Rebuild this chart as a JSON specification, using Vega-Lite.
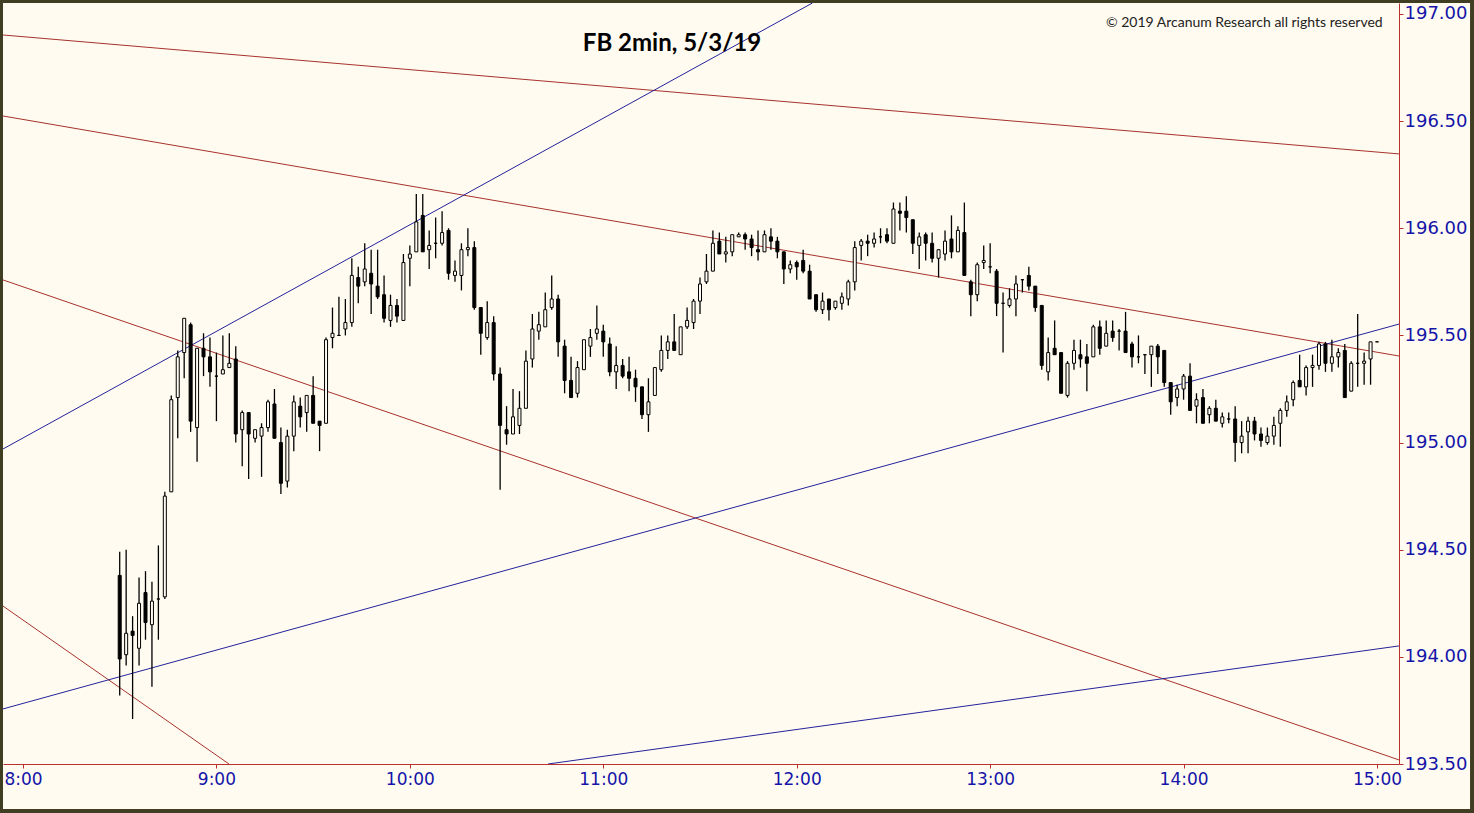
{
  "$schema": "https://vega.github.io/schema/vega-lite/v6.json",
  "width": 1396,
  "height": 761,
  "autosize": {"type": "none"},
  "padding": {"left": 3, "top": 3, "right": 75, "bottom": 49},
  "background": "#3f3e22",
  "config": {
    "view": {"fill": "#fffbf0", "stroke": null},
    "scale": {"continuousPadding": 0},
    "axis": {"grid": false, "domainColor": "#b8312f", "tickColor": "#b8312f", "labelColor": "#1414a8", "labelFont": "DejaVu Sans", "domainWidth": 1, "tickWidth": 1, "tickSize": 4, "zindex": 1}
  },
  "title": {"text": "FB 2min, 5/3/19", "anchor": "middle", "frame": "group", "orient": "top", "offset": 0, "dx": -29, "dy": 72, "baseline": "alphabetic", "font": "Lato", "fontSize": 24, "fontWeight": "bold", "color": "#000000"},
  "datasets": {
    "candles": [
      {"t":"08:30","o":194.38,"h":194.49,"l":193.82,"c":193.99},
      {"t":"08:32","o":194.01,"h":194.50,"l":193.96,"c":194.11},
      {"t":"08:34","o":194.12,"h":194.19,"l":193.71,"c":194.10},
      {"t":"08:36","o":194.04,"h":194.37,"l":193.96,"c":194.25},
      {"t":"08:38","o":194.30,"h":194.40,"l":194.08,"c":194.16},
      {"t":"08:40","o":194.15,"h":194.35,"l":193.86,"c":194.26},
      {"t":"08:42","o":194.27,"h":194.52,"l":194.08,"c":194.27},
      {"t":"08:44","o":194.28,"h":194.77,"l":194.27,"c":194.75},
      {"t":"08:46","o":194.77,"h":195.22,"l":194.77,"c":195.20},
      {"t":"08:48","o":195.21,"h":195.43,"l":195.02,"c":195.40},
      {"t":"08:50","o":195.42,"h":195.58,"l":195.30,"c":195.58},
      {"t":"08:52","o":195.55,"h":195.56,"l":195.05,"c":195.10},
      {"t":"08:54","o":195.07,"h":195.44,"l":194.91,"c":195.44},
      {"t":"08:56","o":195.44,"h":195.51,"l":195.31,"c":195.40},
      {"t":"08:58","o":195.40,"h":195.49,"l":195.26,"c":195.33},
      {"t":"09:00","o":195.31,"h":195.42,"l":195.10,"c":195.31},
      {"t":"09:02","o":195.32,"h":195.50,"l":195.32,"c":195.34},
      {"t":"09:04","o":195.35,"h":195.51,"l":195.35,"c":195.37},
      {"t":"09:06","o":195.39,"h":195.45,"l":195.00,"c":195.04},
      {"t":"09:08","o":195.06,"h":195.15,"l":194.89,"c":195.14},
      {"t":"09:10","o":195.14,"h":195.14,"l":194.83,"c":195.04},
      {"t":"09:12","o":195.02,"h":195.06,"l":195.00,"c":195.06},
      {"t":"09:14","o":195.03,"h":195.09,"l":194.84,"c":195.07},
      {"t":"09:16","o":195.07,"h":195.20,"l":195.05,"c":195.19},
      {"t":"09:18","o":195.18,"h":195.25,"l":195.02,"c":195.02},
      {"t":"09:20","o":195.00,"h":195.07,"l":194.76,"c":194.81},
      {"t":"09:22","o":194.82,"h":195.06,"l":194.79,"c":195.03},
      {"t":"09:24","o":195.03,"h":195.22,"l":194.96,"c":195.19},
      {"t":"09:26","o":195.17,"h":195.21,"l":195.07,"c":195.12},
      {"t":"09:28","o":195.14,"h":195.22,"l":195.05,"c":195.22},
      {"t":"09:30","o":195.22,"h":195.31,"l":195.09,"c":195.09},
      {"t":"09:32","o":195.10,"h":195.10,"l":194.96,"c":195.08},
      {"t":"09:34","o":195.09,"h":195.49,"l":195.09,"c":195.48},
      {"t":"09:36","o":195.49,"h":195.63,"l":195.44,"c":195.51},
      {"t":"09:38","o":195.50,"h":195.68,"l":195.50,"c":195.50},
      {"t":"09:40","o":195.53,"h":195.67,"l":195.50,"c":195.56},
      {"t":"09:42","o":195.56,"h":195.86,"l":195.54,"c":195.78},
      {"t":"09:44","o":195.77,"h":195.82,"l":195.65,"c":195.73},
      {"t":"09:46","o":195.75,"h":195.93,"l":195.73,"c":195.81},
      {"t":"09:48","o":195.79,"h":195.90,"l":195.60,"c":195.74},
      {"t":"09:50","o":195.73,"h":195.90,"l":195.67,"c":195.68},
      {"t":"09:52","o":195.69,"h":195.78,"l":195.56,"c":195.58},
      {"t":"09:54","o":195.57,"h":195.69,"l":195.54,"c":195.64},
      {"t":"09:56","o":195.64,"h":195.67,"l":195.56,"c":195.59},
      {"t":"09:58","o":195.57,"h":195.88,"l":195.57,"c":195.84},
      {"t":"10:00","o":195.86,"h":195.92,"l":195.73,"c":195.88},
      {"t":"10:02","o":195.89,"h":196.16,"l":195.89,"c":196.03},
      {"t":"10:04","o":196.06,"h":196.16,"l":195.89,"c":195.89},
      {"t":"10:06","o":195.90,"h":195.99,"l":195.81,"c":195.92},
      {"t":"10:08","o":195.93,"h":196.05,"l":195.86,"c":195.93},
      {"t":"10:10","o":195.93,"h":196.08,"l":195.92,"c":195.98},
      {"t":"10:12","o":195.99,"h":196.00,"l":195.76,"c":195.79},
      {"t":"10:14","o":195.78,"h":195.85,"l":195.75,"c":195.80},
      {"t":"10:16","o":195.78,"h":195.93,"l":195.71,"c":195.90},
      {"t":"10:18","o":195.90,"h":196.00,"l":195.87,"c":195.91},
      {"t":"10:20","o":195.91,"h":195.94,"l":195.62,"c":195.63},
      {"t":"10:22","o":195.63,"h":195.63,"l":195.41,"c":195.51},
      {"t":"10:24","o":195.49,"h":195.66,"l":195.48,"c":195.56},
      {"t":"10:26","o":195.56,"h":195.59,"l":195.29,"c":195.32},
      {"t":"10:28","o":195.32,"h":195.35,"l":194.78,"c":195.08},
      {"t":"10:30","o":195.06,"h":195.17,"l":194.99,"c":195.04},
      {"t":"10:32","o":195.04,"h":195.25,"l":195.04,"c":195.12},
      {"t":"10:34","o":195.08,"h":195.24,"l":195.04,"c":195.16},
      {"t":"10:36","o":195.16,"h":195.43,"l":195.16,"c":195.38},
      {"t":"10:38","o":195.39,"h":195.60,"l":195.35,"c":195.53},
      {"t":"10:40","o":195.52,"h":195.61,"l":195.48,"c":195.55},
      {"t":"10:42","o":195.54,"h":195.70,"l":195.54,"c":195.62},
      {"t":"10:44","o":195.63,"h":195.78,"l":195.62,"c":195.67},
      {"t":"10:46","o":195.67,"h":195.69,"l":195.40,"c":195.47},
      {"t":"10:48","o":195.45,"h":195.48,"l":195.23,"c":195.29},
      {"t":"10:50","o":195.29,"h":195.40,"l":195.21,"c":195.21},
      {"t":"10:52","o":195.23,"h":195.38,"l":195.21,"c":195.35},
      {"t":"10:54","o":195.34,"h":195.48,"l":195.34,"c":195.48},
      {"t":"10:56","o":195.45,"h":195.53,"l":195.40,"c":195.49},
      {"t":"10:58","o":195.51,"h":195.64,"l":195.48,"c":195.53},
      {"t":"11:00","o":195.52,"h":195.55,"l":195.40,"c":195.47},
      {"t":"11:02","o":195.46,"h":195.49,"l":195.31,"c":195.33},
      {"t":"11:04","o":195.33,"h":195.45,"l":195.25,"c":195.36},
      {"t":"11:06","o":195.36,"h":195.39,"l":195.30,"c":195.31},
      {"t":"11:08","o":195.33,"h":195.40,"l":195.24,"c":195.30},
      {"t":"11:10","o":195.30,"h":195.34,"l":195.19,"c":195.26},
      {"t":"11:12","o":195.26,"h":195.26,"l":195.11,"c":195.13},
      {"t":"11:14","o":195.13,"h":195.30,"l":195.05,"c":195.19},
      {"t":"11:16","o":195.22,"h":195.35,"l":195.22,"c":195.35},
      {"t":"11:18","o":195.34,"h":195.50,"l":195.33,"c":195.43},
      {"t":"11:20","o":195.43,"h":195.50,"l":195.39,"c":195.47},
      {"t":"11:22","o":195.47,"h":195.60,"l":195.43,"c":195.43},
      {"t":"11:24","o":195.41,"h":195.54,"l":195.41,"c":195.54},
      {"t":"11:26","o":195.54,"h":195.63,"l":195.53,"c":195.57},
      {"t":"11:28","o":195.56,"h":195.67,"l":195.53,"c":195.66},
      {"t":"11:30","o":195.66,"h":195.77,"l":195.60,"c":195.74},
      {"t":"11:32","o":195.75,"h":195.88,"l":195.74,"c":195.80},
      {"t":"11:34","o":195.80,"h":195.99,"l":195.80,"c":195.93},
      {"t":"11:36","o":195.94,"h":195.98,"l":195.88,"c":195.88},
      {"t":"11:38","o":195.88,"h":195.96,"l":195.84,"c":195.89},
      {"t":"11:40","o":195.89,"h":195.97,"l":195.87,"c":195.97},
      {"t":"11:42","o":195.96,"h":195.98,"l":195.96,"c":195.97},
      {"t":"11:44","o":195.97,"h":195.98,"l":195.90,"c":195.95},
      {"t":"11:46","o":195.95,"h":195.97,"l":195.87,"c":195.91},
      {"t":"11:48","o":195.90,"h":195.99,"l":195.85,"c":195.89},
      {"t":"11:50","o":195.89,"h":195.99,"l":195.89,"c":195.97},
      {"t":"11:52","o":195.96,"h":196.00,"l":195.90,"c":195.94},
      {"t":"11:54","o":195.94,"h":195.96,"l":195.86,"c":195.89},
      {"t":"11:56","o":195.89,"h":195.89,"l":195.74,"c":195.81},
      {"t":"11:58","o":195.81,"h":195.85,"l":195.79,"c":195.83},
      {"t":"12:00","o":195.84,"h":195.85,"l":195.76,"c":195.82},
      {"t":"12:02","o":195.85,"h":195.90,"l":195.79,"c":195.80},
      {"t":"12:04","o":195.80,"h":195.83,"l":195.67,"c":195.67},
      {"t":"12:06","o":195.69,"h":195.69,"l":195.61,"c":195.62},
      {"t":"12:08","o":195.62,"h":195.70,"l":195.60,"c":195.66},
      {"t":"12:10","o":195.67,"h":195.67,"l":195.57,"c":195.62},
      {"t":"12:12","o":195.63,"h":195.66,"l":195.62,"c":195.66},
      {"t":"12:14","o":195.65,"h":195.70,"l":195.62,"c":195.68},
      {"t":"12:16","o":195.67,"h":195.76,"l":195.64,"c":195.75},
      {"t":"12:18","o":195.75,"h":195.94,"l":195.71,"c":195.91},
      {"t":"12:20","o":195.92,"h":195.95,"l":195.85,"c":195.94},
      {"t":"12:22","o":195.94,"h":195.97,"l":195.87,"c":195.93},
      {"t":"12:24","o":195.93,"h":195.98,"l":195.91,"c":195.95},
      {"t":"12:26","o":195.96,"h":196.00,"l":195.93,"c":195.96},
      {"t":"12:28","o":195.97,"h":196.00,"l":195.93,"c":195.94},
      {"t":"12:30","o":195.93,"h":196.12,"l":195.93,"c":196.09},
      {"t":"12:32","o":196.08,"h":196.12,"l":195.99,"c":196.07},
      {"t":"12:34","o":196.08,"h":196.15,"l":195.98,"c":196.05},
      {"t":"12:36","o":196.04,"h":196.04,"l":195.88,"c":195.93},
      {"t":"12:38","o":195.92,"h":195.98,"l":195.81,"c":195.96},
      {"t":"12:40","o":195.97,"h":195.98,"l":195.85,"c":195.93},
      {"t":"12:42","o":195.93,"h":195.98,"l":195.84,"c":195.86},
      {"t":"12:44","o":195.86,"h":195.90,"l":195.77,"c":195.90},
      {"t":"12:46","o":195.88,"h":195.99,"l":195.85,"c":195.94},
      {"t":"12:48","o":195.95,"h":196.06,"l":195.86,"c":195.89},
      {"t":"12:50","o":195.89,"h":196.01,"l":195.89,"c":195.99},
      {"t":"12:52","o":195.98,"h":196.12,"l":195.78,"c":195.78},
      {"t":"12:54","o":195.75,"h":195.76,"l":195.59,"c":195.69},
      {"t":"12:56","o":195.69,"h":195.84,"l":195.66,"c":195.83},
      {"t":"12:58","o":195.84,"h":195.92,"l":195.81,"c":195.85},
      {"t":"13:00","o":195.82,"h":195.93,"l":195.79,"c":195.82},
      {"t":"13:02","o":195.80,"h":195.81,"l":195.59,"c":195.65},
      {"t":"13:04","o":195.65,"h":195.70,"l":195.42,"c":195.65},
      {"t":"13:06","o":195.64,"h":195.72,"l":195.63,"c":195.67},
      {"t":"13:08","o":195.67,"h":195.78,"l":195.59,"c":195.74},
      {"t":"13:10","o":195.76,"h":195.76,"l":195.70,"c":195.76},
      {"t":"13:12","o":195.78,"h":195.82,"l":195.71,"c":195.73},
      {"t":"13:14","o":195.73,"h":195.73,"l":195.61,"c":195.63},
      {"t":"13:16","o":195.64,"h":195.64,"l":195.34,"c":195.36},
      {"t":"13:18","o":195.33,"h":195.49,"l":195.29,"c":195.42},
      {"t":"13:20","o":195.44,"h":195.57,"l":195.41,"c":195.41},
      {"t":"13:22","o":195.42,"h":195.42,"l":195.23,"c":195.23},
      {"t":"13:24","o":195.22,"h":195.38,"l":195.21,"c":195.37},
      {"t":"13:26","o":195.37,"h":195.48,"l":195.34,"c":195.43},
      {"t":"13:28","o":195.41,"h":195.48,"l":195.35,"c":195.39},
      {"t":"13:30","o":195.40,"h":195.46,"l":195.24,"c":195.37},
      {"t":"13:32","o":195.40,"h":195.55,"l":195.40,"c":195.54},
      {"t":"13:34","o":195.54,"h":195.57,"l":195.41,"c":195.44},
      {"t":"13:36","o":195.45,"h":195.57,"l":195.45,"c":195.51},
      {"t":"13:38","o":195.52,"h":195.57,"l":195.47,"c":195.49},
      {"t":"13:40","o":195.52,"h":195.53,"l":195.43,"c":195.52},
      {"t":"13:42","o":195.52,"h":195.61,"l":195.42,"c":195.42},
      {"t":"13:44","o":195.46,"h":195.47,"l":195.35,"c":195.40},
      {"t":"13:46","o":195.40,"h":195.50,"l":195.37,"c":195.40},
      {"t":"13:48","o":195.41,"h":195.41,"l":195.32,"c":195.41},
      {"t":"13:50","o":195.41,"h":195.45,"l":195.26,"c":195.45},
      {"t":"13:52","o":195.45,"h":195.46,"l":195.32,"c":195.40},
      {"t":"13:54","o":195.43,"h":195.43,"l":195.26,"c":195.28},
      {"t":"13:56","o":195.28,"h":195.28,"l":195.13,"c":195.19},
      {"t":"13:58","o":195.21,"h":195.27,"l":195.17,"c":195.25},
      {"t":"14:00","o":195.25,"h":195.32,"l":195.20,"c":195.31},
      {"t":"14:02","o":195.31,"h":195.37,"l":195.15,"c":195.15},
      {"t":"14:04","o":195.17,"h":195.23,"l":195.09,"c":195.20},
      {"t":"14:06","o":195.21,"h":195.25,"l":195.09,"c":195.09},
      {"t":"14:08","o":195.13,"h":195.17,"l":195.09,"c":195.16},
      {"t":"14:10","o":195.16,"h":195.20,"l":195.10,"c":195.10},
      {"t":"14:12","o":195.09,"h":195.14,"l":195.07,"c":195.12},
      {"t":"14:14","o":195.11,"h":195.14,"l":195.09,"c":195.11},
      {"t":"14:16","o":195.11,"h":195.17,"l":194.91,"c":195.00},
      {"t":"14:18","o":195.00,"h":195.10,"l":194.95,"c":195.03},
      {"t":"14:20","o":195.05,"h":195.12,"l":194.95,"c":195.10},
      {"t":"14:22","o":195.10,"h":195.12,"l":195.01,"c":195.04},
      {"t":"14:24","o":195.04,"h":195.07,"l":194.98,"c":195.01},
      {"t":"14:26","o":195.00,"h":195.07,"l":194.99,"c":195.03},
      {"t":"14:28","o":195.03,"h":195.12,"l":194.99,"c":195.08},
      {"t":"14:30","o":195.09,"h":195.16,"l":194.98,"c":195.15},
      {"t":"14:32","o":195.15,"h":195.22,"l":195.12,"c":195.19},
      {"t":"14:34","o":195.20,"h":195.29,"l":195.17,"c":195.28},
      {"t":"14:36","o":195.29,"h":195.41,"l":195.26,"c":195.26},
      {"t":"14:38","o":195.26,"h":195.36,"l":195.22,"c":195.35},
      {"t":"14:40","o":195.35,"h":195.41,"l":195.26,"c":195.36},
      {"t":"14:42","o":195.36,"h":195.47,"l":195.34,"c":195.46},
      {"t":"14:44","o":195.46,"h":195.47,"l":195.33,"c":195.37},
      {"t":"14:46","o":195.37,"h":195.48,"l":195.33,"c":195.40},
      {"t":"14:48","o":195.40,"h":195.44,"l":195.35,"c":195.42},
      {"t":"14:50","o":195.43,"h":195.46,"l":195.21,"c":195.21},
      {"t":"14:52","o":195.24,"h":195.38,"l":195.24,"c":195.37},
      {"t":"14:54","o":195.37,"h":195.60,"l":195.26,"c":195.37},
      {"t":"14:56","o":195.37,"h":195.42,"l":195.27,"c":195.38},
      {"t":"14:58","o":195.39,"h":195.47,"l":195.27,"c":195.47},
      {"t":"15:00","o":195.47,"h":195.47,"l":195.47,"c":195.47}
    ],
    "lines": [
      {"line":"R1","t":"07:53:48","p":196.902},
      {"line":"R1","t":"15:06:49","p":196.347},
      {"line":"R2","t":"07:53:48","p":196.524},
      {"line":"R2","t":"15:06:49","p":195.404},
      {"line":"R3","t":"07:53:48","p":195.759},
      {"line":"R3","t":"15:06:49","p":193.519},
      {"line":"R4","t":"07:53:48","p":194.237},
      {"line":"R4","t":"09:03:54","p":193.5},
      {"line":"B1","t":"07:53:48","p":194.970},
      {"line":"B1","t":"12:04:52","p":197.0513},
      {"line":"B2","t":"07:53:48","p":193.757},
      {"line":"B2","t":"15:06:49","p":195.553},
      {"line":"B3","t":"10:42:51","p":193.5},
      {"line":"B3","t":"15:06:49","p":194.051}
    ]
  },
  "layer": [
    {
      "data": {"values": [{}]},
      "mark": {"type": "rect", "clip": false, "fill": "#fffbf0"},
      "encoding": {
        "x": {"datum": {"year": 1900, "month": 1, "date": 1, "hours": 7, "minutes": 53, "seconds": 48}, "type": "temporal", "title": null,
              "scale": {"domain": [{"year": 1900, "month": 1, "date": 1, "hours": 7, "minutes": 53, "seconds": 48}, {"year": 1900, "month": 1, "date": 1, "hours": 15, "minutes": 6, "seconds": 49}], "padding": 0},
              "axis": {"orient": "bottom", "title": null, "format": "%-H:%M", "labelFontSize": 17, "labelPadding": 3, "labelFlush": false, "labelOverlap": false, "zindex": 1,
                       "values": [{"year": 1900, "month": 1, "date": 1, "hours": 8}, {"year": 1900, "month": 1, "date": 1, "hours": 9}, {"year": 1900, "month": 1, "date": 1, "hours": 10}, {"year": 1900, "month": 1, "date": 1, "hours": 11}, {"year": 1900, "month": 1, "date": 1, "hours": 12}, {"year": 1900, "month": 1, "date": 1, "hours": 13}, {"year": 1900, "month": 1, "date": 1, "hours": 14}, {"year": 1900, "month": 1, "date": 1, "hours": 15}]}},
        "x2": {"datum": {"year": 1900, "month": 1, "date": 1, "hours": 15, "minutes": 28, "seconds": 51}},
        "y": {"datum": 193.29, "type": "quantitative", "title": null,
              "scale": {"domain": [193.5, 197.0513], "nice": false, "zero": false, "padding": 0},
              "axis": {"orient": "right", "title": null, "format": ".2f", "labelFontSize": 18, "labelPadding": 1, "labelOverlap": false, "labelFlush": false, "zindex": 1,
                       "values": [193.5, 194, 194.5, 195, 195.5, 196, 196.5, 197]}},
        "y2": {"datum": 197.0513}
      }
    },
    {
      "data": {"name": "lines", "format": {"parse": {"t": "date:'%H:%M:%S'"}}},
      "mark": {"type": "line", "clip": true, "strokeWidth": 1},
      "encoding": {
        "x": {"field": "t", "type": "temporal", "title": null},
        "y": {"field": "p", "type": "quantitative", "title": null},
        "color": {"field": "line", "type": "nominal", "legend": null,
                  "scale": {"domain": ["R1", "R2", "R3", "R4", "B1", "B2", "B3"], "range": ["#a8322d", "#a8322d", "#a8322d", "#a8322d", "#23239c", "#23239c", "#23239c"]}}
      }
    },
    {
      "data": {"name": "candles", "format": {"parse": {"t": "date:'%H:%M'"}}},
      "encoding": {
        "x": {"field": "t", "type": "temporal", "title": null}
      },
      "layer": [
        {
          "mark": {"type": "rule", "color": "#000000", "strokeWidth": 1.3},
          "encoding": {
            "y": {"field": "l", "type": "quantitative", "title": null},
            "y2": {"field": "h"}
          }
        },
        {
          "mark": {"type": "bar", "width": 3, "stroke": "#000000", "strokeWidth": 1},
          "encoding": {
            "y": {"field": "o", "type": "quantitative", "title": null},
            "y2": {"field": "c"},
            "fill": {"condition": {"test": "datum.c < datum.o", "value": "#000000"}, "value": "#fffbf0"}
          }
        }
      ]
    },
    {
      "data": {"values": [{}]},
      "mark": {"type": "text", "align": "right", "baseline": "middle", "font": "Lato", "fontSize": 14, "color": "#222222", "text": "© 2019 Arcanum Research all rights reserved"},
      "encoding": {
        "x": {"datum": {"year": 1900, "month": 1, "date": 1, "hours": 15, "minutes": 1, "seconds": 45}, "type": "temporal"},
        "y": {"datum": 196.96, "type": "quantitative"}
      }
    }
  ]
}
